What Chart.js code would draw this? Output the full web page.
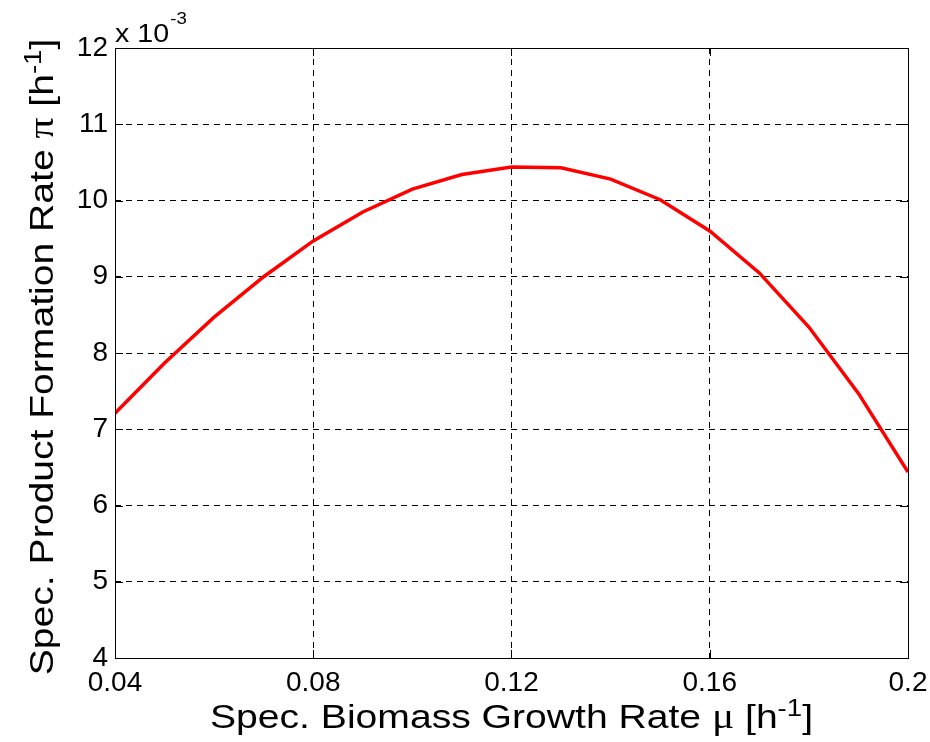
<!DOCTYPE html>
<html>
<head>
<meta charset="utf-8">
<script src="https://cdn.jsdelivr.net/npm/chart.js@4"></script>
<style>
  html, body { margin: 0; padding: 0; background: #fff; }
  #wrap { width: 930px; height: 742px; }
</style>
</head>
<body>
<div id="wrap"><canvas id="grafico" width="930" height="742"></canvas></div>
<script>
// growth rate mu [1/h] and product formation rate pi [1e-3 /h]
const mu = [0.04, 0.05, 0.06, 0.07, 0.08, 0.09, 0.10, 0.11, 0.12, 0.13, 0.14, 0.15, 0.16, 0.17, 0.18, 0.19, 0.20];
const piRate = [7.21, 7.87, 8.47, 9.00, 9.47, 9.85, 10.15, 10.34, 10.44, 10.43, 10.28, 10.01, 9.60, 9.05, 8.34, 7.47, 6.44];
const xTicks = [0.04, 0.08, 0.12, 0.16, 0.2];
const yTicks = [4, 5, 6, 7, 8, 9, 10, 11, 12];

const sans = "'Liberation Sans', Arial, Helvetica, sans-serif";
const serif = "'Liberation Serif', 'DejaVu Serif', serif";
const estirar = 1.15; // titles are a bit wider than plain Arial

const puntos = mu.map((m, i) => ({ x: m, y: piRate[i] }));

// draws a run of text pieces (some raised as superscripts) centred on (x, y)
function textoRico(ctx, partes, x, y, ancho) {
  let total = 0;
  partes.forEach((p) => {
    ctx.font = p.font;
    p.w = ctx.measureText(p.t).width;
    total += p.w;
  });
  ctx.save();
  ctx.translate(x, y);
  ctx.scale(ancho, 1);
  let cx = -total / 2;
  ctx.textAlign = "left";
  ctx.textBaseline = "alphabetic";
  partes.forEach((p) => {
    ctx.font = p.font;
    ctx.fillText(p.t, cx, -(p.up || 0));
    cx += p.w;
  });
  ctx.restore();
}

const marco = {
  id: "marco",
  afterDraw(chart) {
    const { ctx, chartArea: a, scales } = chart;
    ctx.save();
    ctx.strokeStyle = "#000";
    ctx.lineWidth = 1;
    ctx.setLineDash([]);
    ctx.beginPath();
    // inward tick marks on all four sides
    scales.y.ticks.forEach((t) => {
      const py = Math.round(scales.y.getPixelForValue(t.value)) + 0.5;
      ctx.moveTo(a.left, py); ctx.lineTo(a.left + 8, py);
      ctx.moveTo(a.right, py); ctx.lineTo(a.right - 8, py);
    });
    scales.x.ticks.forEach((t) => {
      const px = Math.round(scales.x.getPixelForValue(t.value)) + 0.5;
      ctx.moveTo(px, a.bottom); ctx.lineTo(px, a.bottom - 8);
      ctx.moveTo(px, a.top); ctx.lineTo(px, a.top + 8);
    });
    ctx.stroke();
    ctx.strokeRect(Math.round(a.left) + 0.5, Math.round(a.top) + 0.5,
      Math.round(a.right - a.left), Math.round(a.bottom - a.top));

    ctx.fillStyle = "#000";
    const big = "34px " + sans;
    const sup = "24px " + sans;
    const greek = "36px " + serif;

    // x axis title
    textoRico(ctx, [
      { t: "Spec. Biomass Growth Rate ", font: big },
      { t: "\u03bc", font: greek },
      { t: " [h", font: big },
      { t: "-1", font: sup, up: 12 },
      { t: "]", font: big }
    ], (a.left + a.right) / 2, 728, estirar);

    // y axis title
    ctx.save();
    ctx.translate(53, 357);
    ctx.rotate(-Math.PI / 2);
    textoRico(ctx, [
      { t: "Spec. Product Formation Rate ", font: big },
      { t: "\u03c0", font: greek },
      { t: " [h", font: big },
      { t: "-1", font: sup, up: 12 },
      { t: "]", font: big }
    ], 0, 0, estirar);
    ctx.restore();

    // exponent for the y ticks
    ctx.save();
    ctx.translate(a.left, 0);
    ctx.scale(1.1, 1);
    ctx.textAlign = "left";
    ctx.font = "26px " + sans;
    ctx.fillText("x 10", 0, 42);
    const w10 = ctx.measureText("x 10").width;
    ctx.font = "17px " + sans;
    ctx.fillText("-3", w10 + 1, 24);
    ctx.restore();
    ctx.restore();
  }
};

const config = {
  type: "line",
  data: {
    datasets: [
      {
        data: puntos,
        borderColor: "#ff0000",
        borderWidth: 3.5,
        pointRadius: 0,
        tension: 0,
        fill: false
      }
    ]
  },
  options: {
    responsive: false,
    animation: false,
    events: [],
    layout: { padding: { left: 0, top: 48, right: 22, bottom: 0 } },
    plugins: { legend: { display: false }, tooltip: { enabled: false } },
    scales: {
      x: {
        type: "linear",
        min: xTicks[0],
        max: xTicks[xTicks.length - 1],
        afterBuildTicks: (s) => { s.ticks = xTicks.map((v) => ({ value: v })); },
        afterFit: (s) => { s.height = 84; s.paddingRight = 0; },
        grid: { color: "#000", lineWidth: 1, drawTicks: false },
        border: { display: false, dash: [6, 5] },
        ticks: {
          color: "#000",
          padding: 8,
          maxRotation: 0,
          font: { family: sans, size: 28 },
          callback: (v) => String(+Number(v).toFixed(2))
        }
      },
      y: {
        min: yTicks[0],
        max: yTicks[yTicks.length - 1],
        afterBuildTicks: (s) => { s.ticks = yTicks.map((v) => ({ value: v })); },
        afterFit: (s) => { s.width = 115; },
        grid: { color: "#000", lineWidth: 1, drawTicks: false },
        border: { display: false, dash: [6, 5] },
        ticks: {
          color: "#000",
          padding: 7,
          font: { family: sans, size: 28 }
        }
      }
    }
  },
  plugins: [marco]
};

new Chart(document.getElementById("grafico"), config);
</script>
</body>
</html>
